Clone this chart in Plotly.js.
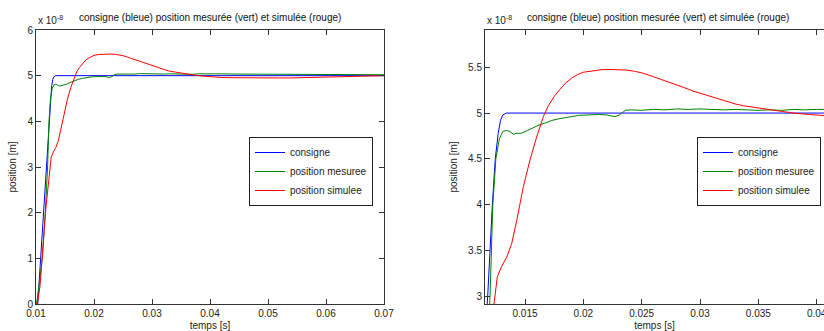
<!DOCTYPE html>
<html>
<head>
<meta charset="utf-8">
<script src="https://cdn.plot.ly/plotly-3.0.1.min.js"></script>
<style>html,body{margin:0;padding:0;background:#fff;}#chart{width:824px;height:331px;}</style>
</head>
<body>
<div id="chart"></div>
<script>
// Data (position in units of 1e-8 m, time in s)
const tConsigne = [0.0100,0.0103,0.0108,0.0113,0.0118,0.0122,0.01245,0.0127,0.0129,0.0131,0.0134,0.0700];
const consigne  = [0,0,1.0,2.0,3.0,4.0,4.5,4.78,4.92,4.98,5.0,5.0];

const tMesuree = [0.0100,0.0102,0.0106,0.0111,0.0116,0.0120,0.01224,0.0125,0.0128,0.0131,0.0134,0.0137,0.0140,0.0143,0.0147,0.0152,0.0157,0.0162,0.0167,0.0173,0.0180,0.0188,0.0196,0.0205,0.0213,0.0220,0.0224,0.0227,0.0231,0.0236,0.0241,0.0250,0.0260,0.0270,0.0280,0.0290,0.0300,0.0310,0.0320,0.0330,0.0340,0.0350,0.0360,0.0370,0.0380,0.0390,0.0400,0.0410,0.0450,0.0500,0.0550,0.0600,0.0650,0.0700];
const mesuree  = [0,0.1,0.5,1.0,2.0,3.0,4.0,4.5,4.72,4.80,4.81,4.80,4.77,4.78,4.78,4.81,4.84,4.87,4.89,4.92,4.94,4.96,4.975,4.98,4.985,4.98,4.965,4.96,4.98,5.03,5.035,5.03,5.04,5.035,5.045,5.04,5.045,5.04,5.035,5.04,5.035,5.03,5.035,5.03,5.04,5.035,5.04,5.04,5.035,5.03,5.03,5.025,5.025,5.02];

const tSimulee = [0.0100,0.0103,0.0107,0.0111,0.0114,0.0117,0.0120,0.01234,0.01263,0.0130,0.01343,0.01386,0.01429,0.01486,0.01543,0.0160,0.01657,0.0170,0.0175,0.0180,0.0185,0.0190,0.0195,0.0200,0.0209,0.0216,0.0223,0.0230,0.0237,0.0244,0.0251,0.0258,0.0266,0.0273,0.0280,0.0287,0.0294,0.0302,0.0309,0.0316,0.0323,0.0330,0.0337,0.0345,0.0352,0.0359,0.0366,0.0373,0.0380,0.0393,0.0406,0.0420,0.0440,0.0460,0.0480,0.0500,0.0520,0.0540,0.0560,0.0580,0.0600,0.0620,0.0640,0.0660,0.0680,0.0700];
const simulee  = [0,0.05,0.4,1.0,1.6,2.1,2.5,2.92,3.22,3.33,3.43,3.58,3.83,4.20,4.49,4.74,4.96,5.08,5.18,5.26,5.33,5.38,5.42,5.445,5.465,5.473,5.475,5.473,5.468,5.455,5.435,5.405,5.37,5.34,5.31,5.275,5.24,5.21,5.18,5.15,5.126,5.10,5.08,5.065,5.054,5.04,5.025,5.012,5.0,4.985,4.97,4.96,4.955,4.95,4.95,4.95,4.95,4.95,4.955,4.96,4.965,4.975,4.985,4.99,4.995,5.0];

const seriesNames = ['consigne','position mesuree','position simulee'];
const titleText = 'consigne (bleue) position mesurée (vert) et simulée (rouge)';
const xTicksLeft = [0.01,0.02,0.03,0.04,0.05,0.06,0.07];
const yTicksLeft = [0,1,2,3,4,5,6];
const xTicksRight = [0.015,0.02,0.025,0.03,0.035,0.04];
const yTicksRight = [3,3.5,4,4.5,5,5.5];

const colors = ['#0000ff','#008000','#ff0000'];
const xs = [tConsigne,tMesuree,tSimulee];
const ys = [consigne,mesuree,simulee];

const traces = [];
[['x','y','legend'],['x2','y2','legend2']].forEach(([xa,ya,lg])=>{
  for(let i=0;i<3;i++){
    traces.push({x:xs[i],y:ys[i],type:'scatter',mode:'lines',name:seriesNames[i],
      xaxis:xa,yaxis:ya,legend:lg,line:{color:colors[i],width:1}});
  }
});

const font = {family:'Liberation Sans, Arial, sans-serif',size:10,color:'#222'};
const W=824,H=331;
const L=36,R=0,T=30,B=27;
const pw = W-L-R;
const ph = H-T-B;
const axBase = {showline:true,linecolor:'#333',linewidth:1,ticks:'inside',ticklen:5,tickcolor:'#333',
  showgrid:false,zeroline:false,tickfont:font,fixedrange:true,ticklabeloverflow:'allow'};

const legBase = {xanchor:'left',yanchor:'top',xref:'paper',yref:'paper',
  bgcolor:'#fff',bordercolor:'#222',borderwidth:1,font:font,itemwidth:30,tracegroupgap:0};

const layout = {
  width:W,height:H,
  margin:{l:L,r:R,t:T,b:B,pad:0},
  paper_bgcolor:'#fff',plot_bgcolor:'#fff',
  font:font,
  showlegend:true,
  xaxis:Object.assign({},axBase,{domain:[0,(384-L)/pw],range:[0.01,0.07],tickvals:xTicksLeft,
    ticktext:xTicksLeft.map(String),mirror:'ticks',anchor:'y',
    title:{text:'temps [s]',font:font,standoff:4}}),
  yaxis:Object.assign({},axBase,{domain:[0,1],range:[0,6],tickvals:yTicksLeft,mirror:'ticks',anchor:'x',
    title:{text:'position [m]',font:font,standoff:8}}),
  xaxis2:Object.assign({},axBase,{domain:[(485-L)/pw,1],range:[0.01157,0.04063],tickvals:xTicksRight,
    ticktext:xTicksRight.map(String),mirror:'ticks',anchor:'y2',
    title:{text:'temps [s]',font:font,standoff:4}}),
  yaxis2:Object.assign({},axBase,{domain:[0,1],range:[2.92,5.905],tickvals:yTicksRight,mirror:false,anchor:'x2',
    title:{text:'position [m]',font:font,standoff:8}}),
  legend:Object.assign({},legBase,{x:(249-L)/pw,y:(H-B-137)/ph}),
  legend2:Object.assign({},legBase,{x:(697-L)/pw,y:(H-B-137)/ph}),
  annotations:[
    {text:titleText,xref:'paper',yref:'paper',x:(210-L)/pw,y:1,yshift:5,xanchor:'center',yanchor:'bottom',showarrow:false,font:{family:font.family,size:10,color:'#111'}},
    {text:titleText,xref:'paper',yref:'paper',x:(658-L)/pw,y:1,yshift:5,xanchor:'center',yanchor:'bottom',showarrow:false,font:{family:font.family,size:10,color:'#111'}},
    {text:'x 10<sup>-8</sup>',xref:'paper',yref:'paper',x:0,y:1,yshift:2,xanchor:'left',yanchor:'bottom',showarrow:false,font:font},
    {text:'x 10<sup>-8</sup>',xref:'paper',yref:'paper',x:(485-L)/pw,y:1,yshift:2,xanchor:'left',yanchor:'bottom',showarrow:false,font:font}
  ]
};

Plotly.newPlot('chart',traces,layout,{staticPlot:true,displayModeBar:false});
</script>
</body>
</html>
